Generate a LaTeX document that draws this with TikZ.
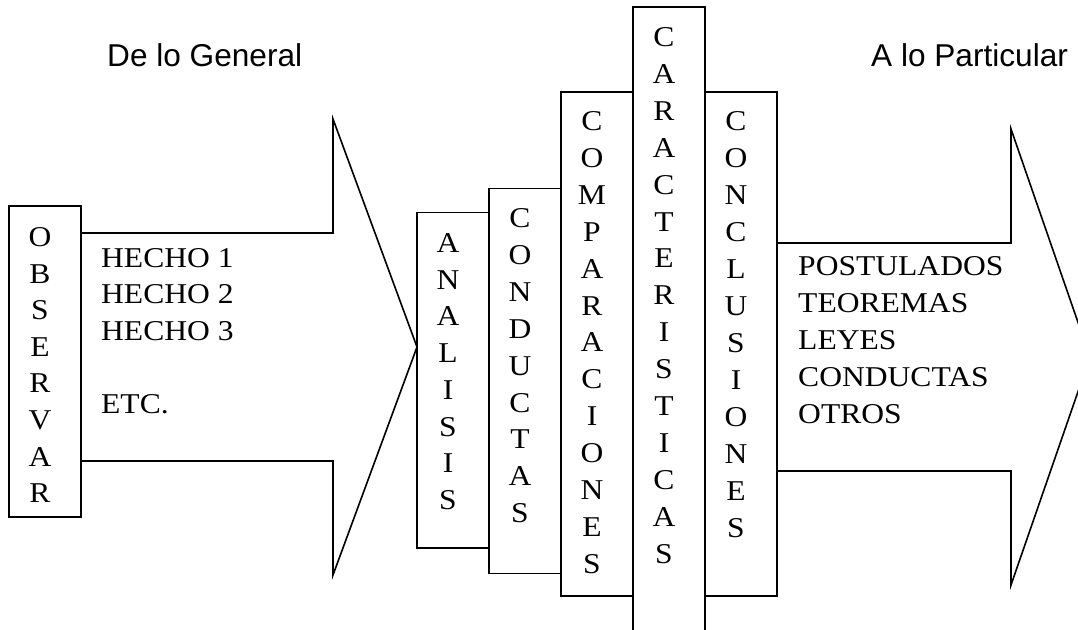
\documentclass[tikz,border=0pt]{standalone}
\usepackage{fontspec}
\setmainfont{Liberation Serif}[FakeStretch=1.1]
\newfontfamily\labelfont{Liberation Sans}
\begin{document}
\begin{tikzpicture}[x=1pt,y=-1pt,
  box/.style={draw, line width=1.6pt, inner sep=0pt, minimum width=72pt},
  arrowline/.style={draw, line width=1.6pt, line join=miter},
  letter/.style={anchor=base, inner sep=0pt, font=\fontsize{28.7}{36.8}\selectfont},
  item/.style={anchor=base west, inner sep=0pt, font=\fontsize{28.7}{36.8}\selectfont},
  heading/.style={anchor=base west, inner sep=0pt, font=\labelfont\fontsize{31.6}{38}\selectfont}]
\clip (0,0) rectangle (1078,629);
\fill[white] (0,0) rectangle (1078,629);

% headings
\node[heading] (gen) at (107,66) {De lo General};
\node[heading] (par) at (871,66) {A lo Particular};

% boxes
\node[box, minimum height=311pt] (obs) at (45,361.5) {};
\node[box, minimum height=335.4pt] (ana) at (453,380.3) {};
\node[box, minimum height=385.1pt] (cond) at (525,381) {};
\node[box, minimum height=504pt] (comp) at (597,344) {};
\node[box, minimum height=633pt] (car) at (669,323.5) {};
\node[box, minimum height=504pt] (concl) at (741,344) {};

% arrow 1
\coordinate (a1t) at (333,233);
\coordinate (a1b) at (333,461);
\coordinate (a1ht) at (333,119);
\coordinate (a1hb) at (333,575);
\coordinate (a1tip) at (417,347);
\draw[arrowline] (obs.east |- a1t) -- (a1t) -- (a1ht) -- (a1tip) -- (a1hb) -- (a1b) -- (obs.east |- a1b);

% arrow 2
\coordinate (a2t) at (1011,243);
\coordinate (a2b) at (1011,471);
\coordinate (a2ht) at (1011,129);
\coordinate (a2hb) at (1011,585);
\coordinate (a2tip) at (1090,357);
\draw[arrowline] (concl.east |- a2t) -- (a2t) -- (a2ht) -- (a2tip) -- (a2hb) -- (a2b) -- (concl.east |- a2b);

% vertical words
\foreach \l [count=\i] in {O,B,S,E,R,V,A,R}
  \node[letter] (obs-\i) at ({40},{246.5+(\i-1)*36.6}) {\l};
\foreach \l [count=\i] in {A,N,A,L,I,S,I,S}
  \node[letter] (ana-\i) at ({448},{252.5+(\i-1)*36.7}) {\l};
\foreach \l [count=\i] in {C,O,N,D,U,C,T,A,S}
  \node[letter] (cond-\i) at ({520},{227.5+(\i-1)*36.9}) {\l};
\foreach \l [count=\i] in {C,O,M,P,A,R,A,C,I,O,N,E,S}
  \node[letter] (comp-\i) at ({592},{130.5+(\i-1)*36.9}) {\l};
\foreach \l [count=\i] in {C,A,R,A,C,T,E,R,I,S,T,I,C,A,S}
  \node[letter] (car-\i) at ({664},{46.5+(\i-1)*36.9}) {\l};
\foreach \l [count=\i] in {C,O,N,C,L,U,S,I,O,N,E,S}
  \node[letter] (concl-\i) at ({736},{130.5+(\i-1)*37}) {\l};

% items
\node[item] (h1) at (101,267) {HECHO 1};
\node[item] (h2) at (101,303.7) {HECHO 2};
\node[item] (h3) at (101,340.4) {HECHO 3};
\node[item] (etc) at (101,413.8) {ETC.};

\node[item] (p1) at (798,275) {POSTULADOS};
\node[item] (p2) at (798,312) {TEOREMAS};
\node[item] (p3) at (798,349) {LEYES};
\node[item] (p4) at (798,386) {CONDUCTAS};
\node[item] (p5) at (798,423) {OTROS};
\end{tikzpicture}
\end{document}
